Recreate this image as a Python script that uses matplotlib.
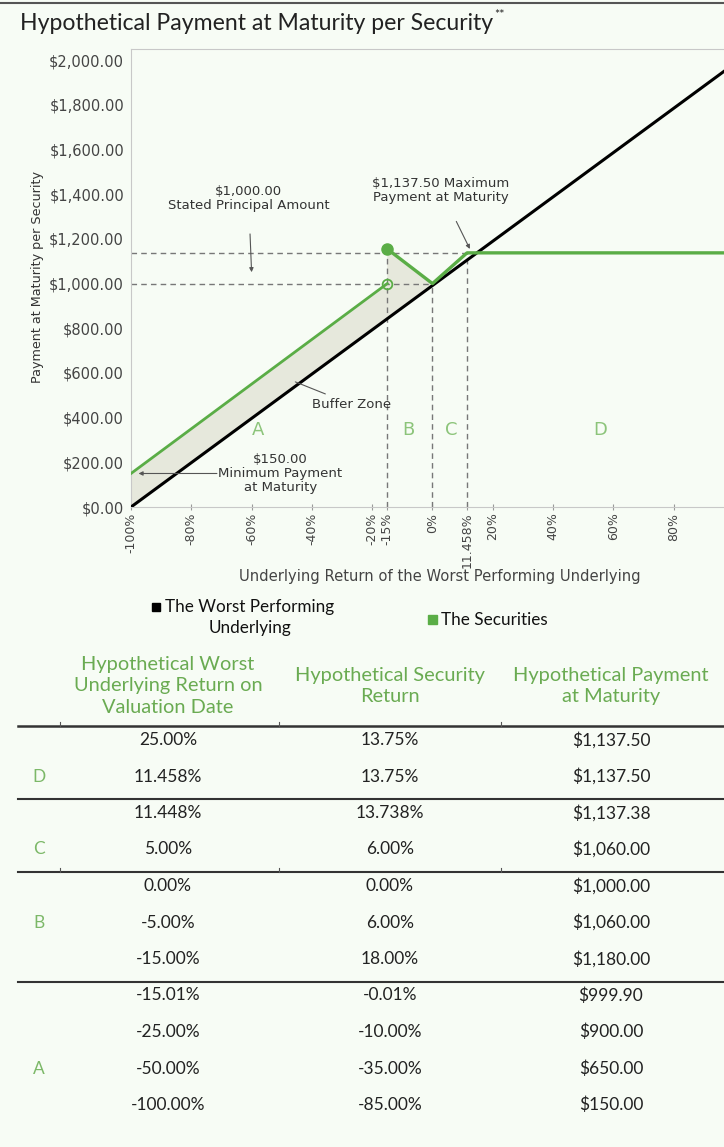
import matplotlib.pyplot as plt
from matplotlib.lines import Line2D
from matplotlib.patches import Rectangle

plt.rcParams['text.parse_math'] = False

# chart data
underlying_x = [-100, 96.7]
worst_pay = [0, 1950]
sec_low_x = [-100, -15.01]
sec_low_y = [150, 999.9]
sec_high_x = [-15, 0, 11.458, 96.7]
sec_high_y = [1155, 1000, 1137.5, 1137.5]
yticks = [0, 200, 400, 600, 800, 1000, 1200, 1400, 1600, 1800, 2000]
xticks = [-100, -80, -60, -40, -20, -15, 0, 11.458, 20, 40, 60, 80]
xticklabels = ['-100%', '-80%', '-60%', '-40%', '-20%', '-15%', '0%', '11.458%',
               '20%', '40%', '60%', '80%']
zone_names = ['A', 'B', 'C', 'D']
zone_x = [-57.7, -7.9, 6.1, 55.6]

# table data
hdr = ['Hypothetical Worst\nUnderlying Return on\nValuation Date',
       'Hypothetical Security\nReturn',
       'Hypothetical Payment\nat Maturity']
col_worst = ['25.00%', '11.458%', '11.448%', '5.00%', '0.00%', '-5.00%', '-15.00%',
             '-15.01%', '-25.00%', '-50.00%', '-100.00%']
col_sec = ['13.75%', '13.75%', '13.738%', '6.00%', '0.00%', '6.00%', '18.00%',
           '-0.01%', '-10.00%', '-35.00%', '-85.00%']
col_pay = ['$1,137.50', '$1,137.50', '$1,137.38', '$1,060.00', '$1,000.00', '$1,060.00',
           '$1,180.00', '$999.90', '$900.00', '$650.00', '$150.00']
row_zone = ['', 'D', '', 'C', '', 'B', '', '', '', 'A', '']

BG = '#f7fcf5'
GREEN = '#5aad46'
LGREEN = '#7cb868'
W, H = 724, 1147


def fx(x):
    return x / W


def fy(y):
    return 1 - y / H


fig = plt.figure(figsize=(W / 100, H / 100), dpi=100, facecolor=BG)
ax = fig.add_axes([fx(131), fy(507), (W - 131) / W, (507 - 49) / H], facecolor=BG)

# buffer zone shading
ax.fill(sec_low_x + sec_high_x[:2] + [underlying_x[0]],
        sec_low_y + sec_high_y[:2] + [worst_pay[0]],
        color='#e6e8dc', zorder=1, lw=0)

# dashed guides
dash = dict(color='#777777', lw=1, ls=(0, (4, 3)), zorder=2)
ax.plot([-100, sec_high_x[2]], [sec_high_y[2]] * 2, **dash)
ax.plot([-100, sec_high_x[1]], [sec_high_y[1]] * 2, **dash)
ax.plot([sec_high_x[0]] * 2, [0, sec_high_y[0]], **dash)
ax.plot([sec_high_x[1]] * 2, [0, sec_high_y[1]], **dash)
ax.plot([sec_high_x[2]] * 2, [0, sec_high_y[2]], **dash)

ax.plot(underlying_x, worst_pay, color='black', lw=2.2, zorder=3)
ax.plot(sec_low_x, sec_low_y, color=GREEN, lw=2, zorder=4)
ax.plot(sec_high_x, sec_high_y, color=GREEN, lw=2.4, zorder=4)
ax.plot(sec_high_x[0], sec_high_y[0], 'o', color=GREEN, ms=8, zorder=5)
ax.plot(sec_low_x[1], sec_low_y[1], 'o', mfc='none', mec=GREEN, mew=1.3, ms=7, zorder=5)

ax.set_xlim(-100, 96.7)
ax.set_ylim(0, 2050)
ax.set_yticks(yticks)
ax.set_yticklabels(['$' + format(v, ',.2f') for v in yticks])
ax.set_xticks(xticks)
ax.set_xticklabels(xticklabels, rotation=90)
ax.tick_params(axis='y', length=0, pad=5, labelsize=10.5, labelcolor='#444444')
ax.tick_params(axis='x', length=4, direction='inout', color='#999999', pad=2,
               labelsize=9, labelcolor='#444444')
for s in ['left', 'bottom', 'top']:
    ax.spines[s].set_color('#c8c8c8')
ax.spines['right'].set_visible(False)

for name, zx in zip(zone_names, zone_x):
    ax.text(zx, 344, name, color='#8cc47a', fontsize=13, ha='center', va='center')

ann = dict(fontsize=9.5, color='#333333', ha='center', va='center', linespacing=1.1)
arr = dict(arrowstyle='-|>', color='#555555', lw=0.8, mutation_scale=6, shrinkA=0, shrinkB=0)
ax.annotate('$1,000.00\nStated Principal Amount', xy=(-60, 1051), xytext=(-61, 1382),
            arrowprops=dict(arr, shrinkA=14), **ann)
ax.annotate('$1,137.50 Maximum\nPayment at Maturity', xy=(12.4, 1155), xytext=(2.8, 1418),
            arrowprops=dict(arr, shrinkA=12), **ann)
ax.annotate('Buffer Zone', xy=(-45.5, 560), xytext=(-27, 460),
            arrowprops=dict(arrowstyle='-', color='#555555', lw=0.8,
                            shrinkA=2, shrinkB=0), **ann)
ax.annotate('$150.00\nMinimum Payment\nat Maturity', xy=(-50.5, 150), ha='center',
            va='center', fontsize=9.5, color='#333333', linespacing=1.1)
ax.annotate('', xy=(-97.5, 150), xytext=(-71.5, 150), arrowprops=arr)

fig.text(fx(38), fy(277), 'Payment at Maturity per Security', rotation=90,
         fontsize=9.2, color='#333333', ha='center', va='center')
fig.text(fx(440), fy(577), 'Underlying Return of the Worst Performing Underlying',
         fontsize=10.6, color='#444444', ha='center', va='center')

# title and frame
fig.add_artist(Line2D([0, 1], [fy(3)] * 2, color='#555555', lw=1.5))
title = fig.text(fx(20), fy(23), 'Hypothetical Payment at Maturity per Security',
                 family='Lato', fontsize=16.6, color='#222222', ha='left', va='center')
ax.annotate('**', xy=(1, 0.9), xycoords=title, xytext=(1, 0), textcoords='offset points',
            family='Lato', fontsize=9, color='#222222', ha='left', va='center',
            annotation_clip=False)

# legend
fig.add_artist(Rectangle((fx(152), fy(611)), 8 / W, 8 / H, color='black',
                         transform=fig.transFigure))
fig.text(fx(165), fy(607), 'The Worst Performing', family='Lato', fontsize=12.3,
         color='#111111', ha='left', va='center')
fig.text(fx(250), fy(628), 'Underlying', family='Lato', fontsize=12.3,
         color='#111111', ha='center', va='center')
fig.add_artist(Rectangle((fx(428), fy(624)), 9 / W, 9 / H, color=GREEN,
                         transform=fig.transFigure))
fig.text(fx(441), fy(620), 'The Securities', family='Lato', fontsize=12.3,
         color='#111111', ha='left', va='center')

# table
col_x = [168, 390, 611]
for cx, h in zip(col_x, hdr):
    fig.text(fx(cx), fy(686), h, family='Lato', fontsize=14.4, color='#6aab52',
             ha='center', va='center', linespacing=1.3)

for yy, lw in [(726, 1.8), (799, 1.5), (872, 1.5), (982, 1.5)]:
    fig.add_artist(Line2D([fx(18), 1], [fy(yy)] * 2, color='#333333', lw=lw))
for yy in [726, 872]:
    for xx in [60, 279, 501]:
        fig.add_artist(Line2D([fx(xx)] * 2, [fy(yy), fy(yy - 4)], color='#555555', lw=0.8))

for i in range(len(col_worst)):
    ry = 740 + 36.5 * i
    for cx, col in zip(col_x, [col_worst, col_sec, col_pay]):
        fig.text(fx(cx), fy(ry), col[i], family='Lato', fontsize=12.5,
                 color='#222222', ha='center', va='center')
    if row_zone[i]:
        fig.text(fx(39), fy(ry), row_zone[i], family='Lato', fontsize=12.5,
                 color=LGREEN, ha='center', va='center')

fig.savefig('out.png', dpi=100, facecolor=BG)
